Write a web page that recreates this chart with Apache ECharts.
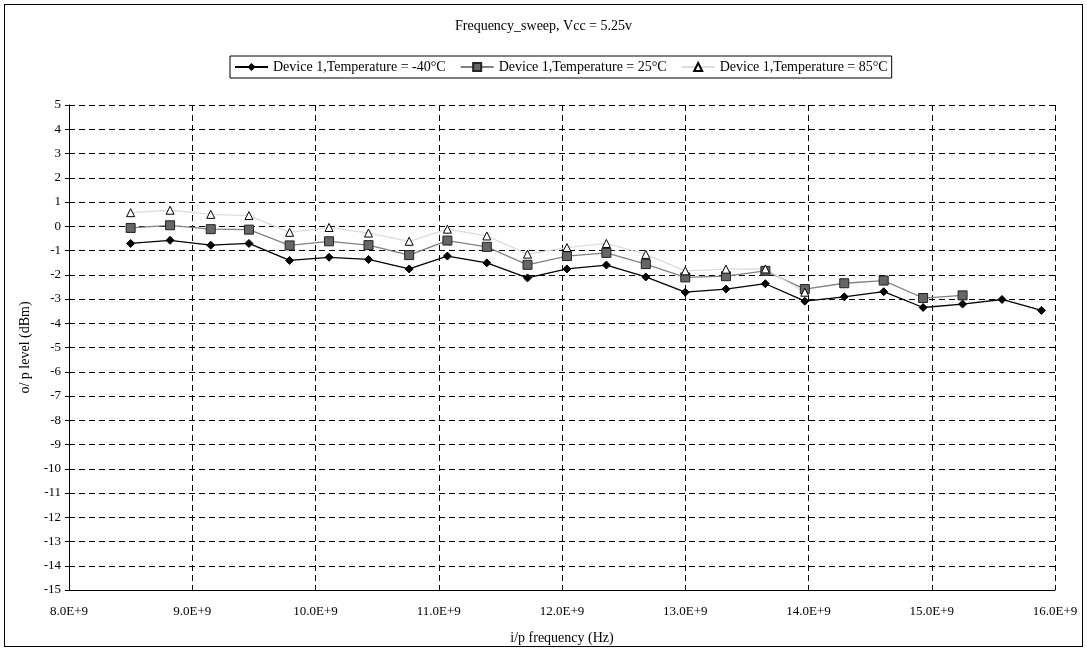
<!DOCTYPE html>
<html><head><meta charset="utf-8">
<script src="https://cdn.jsdelivr.net/npm/echarts@6/dist/echarts.min.js"></script>
<style>html,body{margin:0;padding:0;background:#fff}#wrap{position:relative;width:1087px;height:651px}#c{width:1087px;height:651px}#frame{position:absolute;left:4px;top:4px;width:1079px;height:643px;border:1px solid #000;box-sizing:border-box;pointer-events:none}</style>
</head><body><div id="wrap"><div id="c"></div><div id="frame"></div></div>
<script>
const freqGHz = [8.50, 8.82, 9.15, 9.46, 9.79, 10.11, 10.43, 10.76, 11.07, 11.39, 11.72, 12.04, 12.36, 12.68, 13.00, 13.33, 13.65, 13.97, 14.29, 14.61, 14.93, 15.25, 15.57, 15.89];
const tempM40 = [-0.71, -0.58, -0.78, -0.71, -1.41, -1.28, -1.37, -1.76, -1.23, -1.51, -2.13, -1.76, -1.60, -2.09, -2.72, -2.59, -2.37, -3.09, -2.91, -2.70, -3.35, -3.21, -3.02, -3.47];
const temp25 = [-0.07, 0.04, -0.12, -0.14, -0.79, -0.62, -0.78, -1.19, -0.59, -0.85, -1.59, -1.23, -1.10, -1.56, -2.11, -2.06, -1.84, -2.59, -2.35, -2.24, -2.96, -2.85];
const temp85 = [0.56, 0.66, 0.49, 0.44, -0.25, -0.05, -0.28, -0.62, -0.12, -0.40, -1.15, -0.88, -0.71, -1.16, -1.84, -1.77, -1.76, -2.72];
const seriesNames = ['Device 1,Temperature = -40°C', 'Device 1,Temperature = 25°C', 'Device 1,Temperature = 85°C'];
const titleText = 'Frequency_sweep, Vcc = 5.25v';
const xName = 'i/p frequency (Hz)';
const yName = 'o/ p level (dBm)';

const pairs = arr => arr.map((v, i) => [freqGHz[i] * 1e9, v]);
const F = 'Liberation Serif';
const chart = echarts.init(document.getElementById('c'));
chart.setOption({
  animation: false,
  textStyle: { fontFamily: F, color: '#000' },
  title: { text: titleText, left: 'center', top: 14, textStyle: { fontFamily: F, fontSize: 14, fontWeight: 'normal', color: '#000' } },
  legend: {
    top: 56, left: 230, borderColor: '#000', borderWidth: 1, padding: [4, 4], itemGap: 14,
    itemWidth: 33, itemHeight: 10,
    textStyle: { fontFamily: F, fontSize: 14, color: '#000' }, data: seriesNames
  },
  grid: { left: 69, right: 32, top: 105, bottom: 61 },
  xAxis: {
    type: 'value', min: 8e9, max: 16e9, interval: 1e9,
    name: xName, nameLocation: 'middle', nameGap: 41,
    nameTextStyle: { fontFamily: F, fontSize: 14, color: '#000' },
    axisLine: { onZero: false, lineStyle: { color: '#000', width: 1 } },
    axisTick: { inside: true, length: 5, lineStyle: { color: '#000' } },
    axisLabel: { fontFamily: F, fontSize: 13, color: '#000', margin: 15, formatter: v => (v / 1e9).toFixed(1) + 'E+9' },
    splitLine: { show: true, lineStyle: { color: '#000', type: [6, 4], width: 1 } }
  },
  yAxis: {
    type: 'value', min: -15, max: 5, interval: 1,
    name: yName, nameLocation: 'middle', nameGap: 31, nameRotate: 90,
    nameTextStyle: { fontFamily: F, fontSize: 14, color: '#000' },
    axisLine: { show: true, onZero: false, lineStyle: { color: '#000', width: 1 } },
    axisTick: { show: true, length: 4, lineStyle: { color: '#000' } },
    axisLabel: { fontFamily: F, fontSize: 13, color: '#000', margin: 8 },
    splitLine: { show: true, lineStyle: { color: '#000', type: [6, 4], width: 1 } }
  },
  series: [
    { name: seriesNames[0], type: 'line', data: pairs(tempM40), symbol: 'diamond', symbolSize: 8,
      lineStyle: { color: '#000', width: 1.3 }, itemStyle: { color: '#000', borderColor: '#000' } },
    { name: seriesNames[1], type: 'line', data: pairs(temp25), symbol: 'rect', symbolSize: 9,
      lineStyle: { color: '#808080', width: 1.3 }, itemStyle: { color: '#666', borderColor: '#222', borderWidth: 1 } },
    { name: seriesNames[2], type: 'line', data: pairs(temp85), symbol: 'triangle', symbolSize: 8,
      lineStyle: { color: '#dcdcdc', width: 1.3 }, itemStyle: { color: '#fff', borderColor: '#000', borderWidth: 1 } }
  ]
});
</script></body></html>
